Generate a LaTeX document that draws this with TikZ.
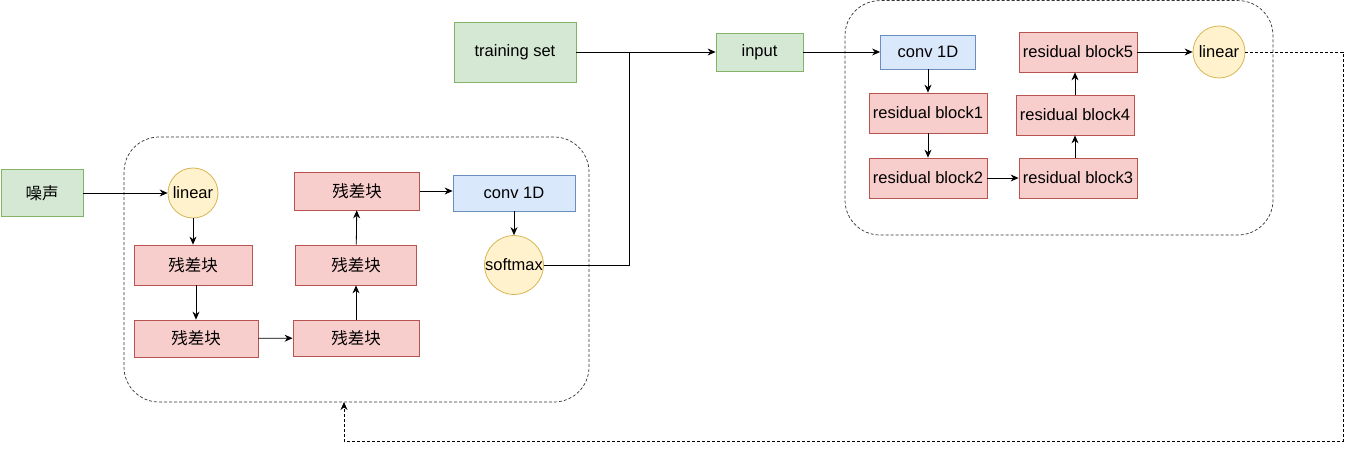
\documentclass[tikz,border=0pt]{standalone}
\usepackage{fontspec}
\setmainfont{Liberation Sans}
\newfontfamily\cjk{Noto Sans CJK SC}
\usepackage{tikz}
\usetikzlibrary{arrows.meta,positioning}

\definecolor{gfill}{HTML}{D5E8D4}
\definecolor{gline}{HTML}{82B366}
\definecolor{rfill}{HTML}{F8CECC}
\definecolor{rline}{HTML}{B85450}
\definecolor{bfill}{HTML}{DAE8FC}
\definecolor{bline}{HTML}{6C8EBF}
\definecolor{yfill}{HTML}{FFF2CC}
\definecolor{yline}{HTML}{D6B656}

\tikzset{
    boxtext/.style={font=\fontsize{16.5}{18}\selectfont, inner sep=0pt, line width=0.8pt},
    greenbox/.style={boxtext, draw=gline, fill=gfill},
    redbox/.style={boxtext, draw=rline, fill=rfill, minimum width=118, minimum height=40},
    bluebox/.style={boxtext, draw=bline, fill=bfill},
    yellowcirc/.style={boxtext, circle, draw=yline, fill=yfill},
    container/.style={draw=black!80, dash pattern=on 3pt off 2pt, rounded corners=35, line width=0.7pt},
    arr/.style={-{Stealth[length=8pt,width=7pt]}, line width=0.8pt},
    feedback/.style={dash pattern=on 3pt off 2pt, line width=0.8pt}
}

\begin{document}
\begin{tikzpicture}[x=1pt,y=-1pt]
	\useasboundingbox (0,0) rectangle (1353,452);
	
	% generator
	\draw[container] (124,137) rectangle (589,402);
	\node[greenbox, minimum width=82, minimum height=47] (noise) at (42,193) {\cjk 噪声};
	\node[yellowcirc, minimum size=50] (linA) at (193,193) {linear};
	\node[redbox] (resA1) at (193,265) {\cjk 残差块};
	\node[redbox, minimum width=124, minimum height=37] (resA2) at (196,338.5) {\cjk 残差块};
	\node[redbox, minimum width=126, minimum height=36] (resA3) at (356,338) {\cjk 残差块};
	\node[redbox, minimum width=121] (resA4) at (356,265) {\cjk 残差块};
	\node[redbox, minimum width=125, minimum height=38] (resA5) at (357,191) {\cjk 残差块};
	\node[bluebox, minimum width=122, minimum height=36] (convA) at (514,193) {conv 1D};
	\node[yellowcirc, minimum size=58] (soft) at (514,265) {softmax};
	
	% inputs
	\node[greenbox, minimum width=122, minimum height=60] (train) at (515,52) {training set};
	\node[greenbox, minimum width=87, minimum height=38] (inp) at (759.5,52) {input};
	\coordinate (joint) at (629,52);
	
	% discriminator
	\draw[container] (845,0.6) rectangle (1273,235);
	\node[bluebox, minimum width=95, minimum height=34] (convB) at (928,52) {conv 1D};
	\node[redbox] (resB1) at (928,113) {residual block1};
	\node[redbox] (resB2) at (928,178) {residual block2};
	\node[redbox] (resB3) at (1078,178) {residual block3};
	\node[redbox] (resB4) at (1075,115) {residual block4};
	\node[redbox] (resB5) at (1078,52) {residual block5};
	\node[yellowcirc, minimum size=52] (linB) at (1219,52) {linear};
	\coordinate (fb) at (344,402);
	
	% connectors
	\draw[arr] (noise) -- (linA);
	\draw[arr] (linA) -- (resA1);
	\draw[arr] (resA1.south -| resA2.north) -- (resA2.north);
	\draw[arr] (resA2) -- (resA3);
	\draw[arr] (resA3) -- (resA4);
	\draw[arr] (resA4) -- (resA5);
	\draw[arr] (resA5.east) -- (resA5.east -| convA.west);
	\draw[arr] (convA) -- (soft);
	\draw[arr] (soft.east) -| (joint) -- (inp.west);
	\draw[line width=0.8pt] (train.east) -- (joint);
	\draw[arr] (inp) -- (convB);
	\draw[arr] (convB) -- (resB1);
	\draw[arr] (resB1) -- (resB2);
	\draw[arr] (resB2) -- (resB3);
	\draw[arr] (resB3.north -| resB4.south) -- (resB4.south);
	\draw[arr] (resB4.north) -- (resB4.north |- resB5.south);
	\draw[arr] (resB5) -- (linB);
	\draw[feedback, arr] (linB.east) -- (1343,52) -- (1343,441) -- (344,441) -- (fb);
	
\end{tikzpicture}
\end{document}
